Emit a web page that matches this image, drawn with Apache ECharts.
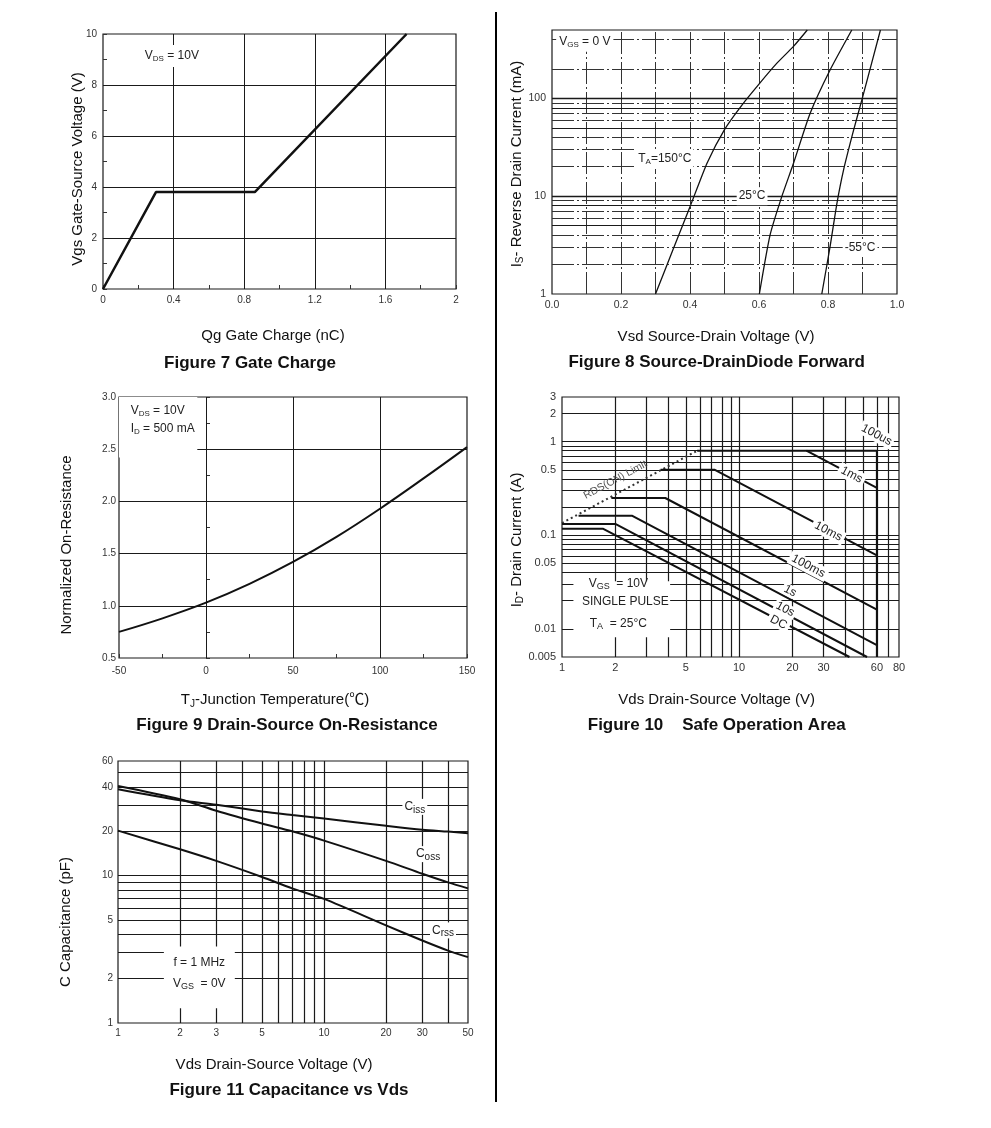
<!DOCTYPE html>
<html><head><meta charset="utf-8">
<script src="https://cdn.jsdelivr.net/npm/echarts@6/dist/echarts.min.js"></script>
<style>html,body{margin:0;padding:0;background:#fff}#c{width:991px;height:1128px}</style>
</head><body><div id="c"></div>
<script>
// ---------- DATA ----------
// Figure 7 Gate Charge
const fig7Charge = [0, 0.3, 0.86, 1.72];
const fig7Vgs = [0, 3.8, 3.8, 10];
// Figure 8 Source-Drain diode forward (Vsd V, Is mA)
const fig8Vsd150 = [0.30, 0.35, 0.40, 0.45, 0.50, 0.55, 0.60, 0.65, 0.70, 0.74];
const fig8Is150 = [1, 2.8, 7.8, 22, 48, 85, 140, 225, 340, 500];
const fig8Vsd25 = [0.601, 0.632, 0.666, 0.70, 0.748, 0.806, 0.869];
const fig8Is25 = [1, 4.0, 9.9, 21.7, 70, 195, 500];
const fig8VsdM55 = [0.782, 0.806, 0.826, 0.845, 0.874, 0.898, 0.952];
const fig8IsM55 = [1, 3.05, 8.5, 18.5, 47, 96, 500];
const fig8YTicks = [1, 10, 100];
// Figure 9 Normalized on-resistance
const fig9Temp = [-50, -25, 0, 25, 50, 75, 100, 125, 150];
const fig9Rds = [0.75, 0.88, 1.03, 1.21, 1.42, 1.66, 1.93, 2.22, 2.52];
// Figure 10 Safe operating area (Vds V, Id A)
const fig10RdsLimV = [1, 5.8];        const fig10RdsLimI = [0.135, 0.8];
const fig10us100V = [5.8, 60, 60];    const fig10us100I = [0.8, 0.8, 0.005];
const fig10ms1V = [24, 60];           const fig10ms1I = [0.8, 0.32];
const fig10ms10V = [3.6, 7.3, 60];    const fig10ms10I = [0.5, 0.5, 0.061];
const fig10ms100V = [1.9, 3.83, 60];  const fig10ms100I = [0.25, 0.25, 0.016];
const fig10s1V = [1.24, 2.48, 60];    const fig10s1I = [0.162, 0.162, 0.0067];
const fig10s10V = [1, 2, 52.8];       const fig10s10I = [0.132, 0.132, 0.005];
const fig10dcV = [1, 1.71, 42];       const fig10dcI = [0.117, 0.117, 0.005];
const fig10XTicks = [1, 2, 5, 10, 20, 30, 60, 80];
const fig10YTicks = [0.005, 0.01, 0.05, 0.1, 0.5, 1, 2, 3];
// Figure 11 Capacitance vs Vds
const fig11Vds = [1, 2, 3, 5, 7, 10, 20, 30, 40, 50];
const fig11Ciss = [38.6, 32.5, 30.3, 27.3, 25.8, 24.4, 21.8, 20.5, 19.9, 19.4];
const fig11Coss = [40.6, 33, 27.6, 22.6, 20, 17.3, 12.6, 10.3, 9.0, 8.2];
const fig11Crss = [20.2, 15.1, 12.6, 9.8, 8.2, 6.95, 4.6, 3.63, 3.1, 2.8];
const fig11XTicks = [1, 2, 3, 5, 10, 20, 30, 50];
const fig11YTicks = [1, 2, 5, 10, 20, 40, 60];
// gridline positions
const fig7GridX = [0.4, 0.8, 1.2, 1.6];
const fig7GridY = [2, 4, 6, 8];
const fig8GridX = [0.1, 0.2, 0.3, 0.4, 0.5, 0.6, 0.7, 0.8, 0.9];
const fig8GridYMajor = [10, 100];
const fig8GridYSolid = [5, 8, 50, 80];
const fig8GridYMinor = [2, 3, 4, 6, 7, 9, 20, 30, 40, 60, 70, 90, 200, 400];
const fig9GridX = [0, 50, 100];
const fig9GridY = [1.0, 1.5, 2.0, 2.5];
const fig10GridX = [2, 3, 4, 5, 6, 7, 8, 9, 10, 20, 30, 40, 50, 60, 70];
const fig10GridY = [0.006, 0.007, 0.008, 0.009, 0.01, 0.02, 0.03, 0.04, 0.05, 0.06, 0.07, 0.08, 0.09,
                    0.1, 0.2, 0.3, 0.4, 0.5, 0.6, 0.7, 0.8, 0.9, 1, 2];
const fig11GridX = [2, 3, 4, 5, 6, 7, 8, 9, 10, 20, 30, 40];
const fig11GridY = [2, 3, 4, 5, 6, 7, 8, 9, 10, 20, 30, 40, 50];

// ---------- CHART ----------
const FONT = '"Liberation Sans", Arial, "Noto Sans CJK SC", sans-serif';
const chart = echarts.init(document.getElementById('c'), null, {renderer: 'canvas'});
const pairs = (xs, ys) => xs.map((x, i) => [x, ys[i]]);
const numFmt = v => String(parseFloat(Number(v).toPrecision(6)));
const gridBox = {show: true, borderColor: '#1a1a1a', borderWidth: 1.2, backgroundColor: 'transparent'};
const grids = [
  {left: 103, top: 34, width: 353, height: 255},
  {left: 552, top: 30, width: 345, height: 264},
  {left: 119, top: 397, width: 348, height: 261},
  {left: 562, top: 397, width: 337, height: 260},
  {left: 118, top: 761, width: 350, height: 262}
].map(g => Object.assign({}, gridBox, g));

const lbl = (size, margin, extra) => Object.assign({fontFamily: FONT, fontSize: size, color: '#333', margin: margin}, extra || {});
const base = {axisLine: {show: false}, splitLine: {show: false}, axisTick: {show: false}};
const minorT = {
  axisTick: {show: true, inside: true, length: 4, lineStyle: {color: '#333'}},
  minorTick: {show: true, splitNumber: 2, length: 4, lineStyle: {color: '#333'}}
};
const xAxes = [
  Object.assign({}, base, minorT, {gridIndex: 0, type: 'value', min: 0, max: 2, interval: 0.4, axisLabel: lbl(10, 6, {formatter: numFmt})}),
  Object.assign({}, base, {gridIndex: 1, type: 'value', min: 0, max: 1, interval: 0.2, axisLabel: lbl(10.5, 6, {formatter: v => v.toFixed(1)})}),
  Object.assign({}, base, minorT, {gridIndex: 2, type: 'value', min: -50, max: 150, interval: 50, axisLabel: lbl(10, 8, {formatter: numFmt})}),
  Object.assign({}, base, {gridIndex: 3, type: 'log', logBase: 10, min: 1, max: 80, axisLabel: lbl(11, 5, {customValues: fig10XTicks, formatter: numFmt})}),
  Object.assign({}, base, {gridIndex: 4, type: 'log', logBase: 10, min: 1, max: 50, axisLabel: lbl(10, 5, {customValues: fig11XTicks, formatter: numFmt})})
];
const yAxes = [
  Object.assign({}, base, minorT, {gridIndex: 0, type: 'value', min: 0, max: 10, interval: 2, axisLabel: lbl(10, 6, {formatter: numFmt})}),
  Object.assign({}, base, {gridIndex: 1, type: 'log', logBase: 10, min: 1, max: 500, axisLabel: lbl(10.5, 6, {customValues: fig8YTicks, formatter: numFmt})}),
  Object.assign({}, base, minorT, {gridIndex: 2, type: 'value', min: 0.5, max: 3.0, interval: 0.5, axisLabel: lbl(10, 3, {formatter: v => v.toFixed(1)})}),
  Object.assign({}, base, {gridIndex: 3, type: 'log', logBase: 10, min: 0.005, max: 3, axisLabel: lbl(11, 6, {customValues: fig10YTicks, formatter: numFmt})}),
  Object.assign({}, base, {gridIndex: 4, type: 'log', logBase: 10, min: 1, max: 60, axisLabel: lbl(10, 5, {customValues: fig11YTicks, formatter: numFmt})})
];

const solid = (w) => ({color: '#1a1a1a', width: w || 1.1, type: 'solid'});
const dashDot = {color: '#333', width: 1, type: [22, 3, 2, 3]};
function gridLines(gi, vx, vy) {
  return {
    type: 'line', xAxisIndex: gi, yAxisIndex: gi, data: [], silent: true, animation: false, z: 1,
    markLine: {
      silent: true, animation: false, symbol: ['none', 'none'], label: {show: false}, z: 1,
      emphasis: {disabled: true},
      data: vx.map(o => ({xAxis: o[0], lineStyle: o[1]})).concat(vy.map(o => ({yAxis: o[0], lineStyle: o[1]})))
    }
  };
}
function curve(gi, xs, ys, extra) {
  return Object.assign({
    type: 'line', xAxisIndex: gi, yAxisIndex: gi, data: pairs(xs, ys), symbol: 'none',
    silent: true, animation: false, z: 10, lineStyle: {color: '#111', width: 2}
  }, extra || {});
}
const w = (arr, st) => arr.map(v => [v, st]);
const diode = {smooth: 0.2, lineStyle: {color: '#111', width: 1.3}};

const series = [
  gridLines(0, w(fig7GridX, solid(1)), w(fig7GridY, solid(1))),
  gridLines(1, w(fig8GridX, dashDot),
    w(fig8GridYMajor, solid(1.3)).concat(w(fig8GridYSolid, solid(1)), w(fig8GridYMinor, dashDot))),
  gridLines(2, w(fig9GridX, solid(1)), w(fig9GridY, solid(1))),
  gridLines(3, w(fig10GridX, solid(1.2)), w(fig10GridY, solid(1.2))),
  gridLines(4, w(fig11GridX, solid(1.2)), w(fig11GridY, solid(1.2))),
  curve(0, fig7Charge, fig7Vgs, {lineStyle: {color: '#111', width: 2.5}}),
  curve(1, fig8Vsd150, fig8Is150, diode),
  curve(1, fig8Vsd25, fig8Is25, diode),
  curve(1, fig8VsdM55, fig8IsM55, diode),
  curve(2, fig9Temp, fig9Rds, {smooth: 0.4, lineStyle: {color: '#111', width: 2}}),
  curve(3, fig10RdsLimV, fig10RdsLimI, {lineStyle: {color: '#333', width: 2, type: [2, 3]}}),
  curve(3, fig10us100V, fig10us100I, {lineStyle: {color: '#111', width: 2}}),
  curve(3, fig10ms1V, fig10ms1I),
  curve(3, fig10ms10V, fig10ms10I),
  curve(3, fig10ms100V, fig10ms100I),
  curve(3, fig10s1V, fig10s1I),
  curve(3, fig10s10V, fig10s10I),
  curve(3, fig10dcV, fig10dcI),
  curve(4, fig11Vds, fig11Ciss, {smooth: 0.3}),
  curve(4, fig11Vds, fig11Coss, {smooth: 0.3}),
  curve(4, fig11Vds, fig11Crss, {smooth: 0.3})
];

chart.setOption({
  backgroundColor: '#fff',
  animation: false,
  grid: grids,
  xAxis: xAxes,
  yAxis: yAxes,
  series: series
});

// ---------- TEXT / ANNOTATIONS ----------
const P = (gi, x, y) => chart.convertToPixel({gridIndex: gi}, [x, y]);
const rt = (size, extra) => Object.assign({fontFamily: FONT, fontSize: size, fill: '#222'}, extra || {});
function T(x, y, text, o) {
  o = o || {};
  const st = Object.assign({
    text: text, fill: o.fill || '#111', font: o.font || ('15px ' + FONT),
    align: o.align || 'center', verticalAlign: 'middle',
    textAlign: o.align || 'center', textVerticalAlign: 'middle'
  }, o.style || {});
  return {type: 'text', x: x, y: y, rotation: o.rot || 0, z: 100, style: st};
}
function richLabel(pt, text, size, subSize, o) {
  o = o || {};
  return T(pt[0], pt[1], text, {
    rot: o.rot, align: o.align,
    style: Object.assign({
      rich: {
        m: rt(size, {fill: o.fill || '#222'}),
        s: rt(subSize, {fill: o.fill || '#222', padding: [o.subShift || 6, 0, 0, 0]})
      }
    }, o.bg ? {backgroundColor: '#fff', padding: o.pad || [2, 3]} : {})
  });
}
function whiteRect(gi, x1, y1, x2, y2) {
  const a = P(gi, x1, y1), b = P(gi, x2, y2);
  return {type: 'rect', z: 99, shape: {x: Math.min(a[0], b[0]), y: Math.min(a[1], b[1]), width: Math.abs(b[0] - a[0]), height: Math.abs(b[1] - a[1])}, style: {fill: '#fff'}};
}

const slopeA = P(3, 10, 0.1), slopeB = P(3, 100, 0.01);
const slopeRot = -Math.atan2(slopeB[1] - slopeA[1], slopeB[0] - slopeA[0]);
const limA = P(3, fig10RdsLimV[0], fig10RdsLimI[0]), limB = P(3, fig10RdsLimV[1], fig10RdsLimI[1]);
const limRot = -Math.atan2(limB[1] - limA[1], limB[0] - limA[0]);
const RIGHT = Math.PI / 2;
const bold = 'bold 17px ' + FONT;
const tFont = '15px ' + FONT;

const graphics = [
  {type: 'line', z: 100, shape: {x1: 496, y1: 12, x2: 496, y2: 1102}, style: {stroke: '#000', lineWidth: 2}},
  // figure titles
  T(250, 363, 'Figure 7 Gate Charge', {font: bold}),
  T(716.7, 362, 'Figure 8 Source-DrainDiode Forward', {font: bold}),
  T(287, 725, 'Figure 9 Drain-Source On-Resistance', {font: bold}),
  T(716.7, 725, 'Figure 10    Safe Operation Area', {font: bold}),
  T(289, 1090, 'Figure 11 Capacitance vs Vds', {font: bold}),
  // x axis titles
  T(273, 336, 'Qg Gate Charge (nC)', {font: tFont}),
  T(716, 337, 'Vsd Source-Drain Voltage (V)', {font: tFont}),
  richLabel([275, 700], '{m|T}{s|J}{m|-Junction Temperature(℃)}', 15, 10, {fill: '#111', subShift: 8}),
  T(716.7, 700, 'Vds Drain-Source Voltage (V)', {font: tFont}),
  T(274, 1065, 'Vds Drain-Source Voltage (V)', {font: tFont}),
  // y axis titles
  T(78, 169, 'Vgs Gate-Source Voltage (V)', {font: tFont, rot: RIGHT}),
  richLabel([516.7, 164], '{m|I}{s|S}{m|- Reverse Drain Current (mA)}', 15, 10, {rot: RIGHT, fill: '#111', subShift: 8}),
  T(67, 545, 'Normalized On-Resistance', {font: tFont, rot: RIGHT}),
  richLabel([516.5, 540], '{m|I}{s|D}{m|- Drain Current (A)}', 15, 10, {rot: RIGHT, fill: '#111', subShift: 8}),
  T(66, 922, 'C Capacitance (pF)', {font: tFont, rot: RIGHT}),
  // fig 7 note
  richLabel(P(0, 0.39, 9.14), '{m|V}{s|DS}{m| = 10V}', 12, 8, {bg: true, pad: [4, 3]}),
  // fig 8 notes
  richLabel(P(1, 0.095, 380), '{m|V}{s|GS}{m| = 0 V}', 12, 8, {bg: true, pad: [3, 3]}),
  richLabel(P(1, 0.327, 24), '{m|T}{s|A}{m|=150°C}', 12, 8, {bg: true, pad: [3, 2]}),
  richLabel(P(1, 0.58, 10), '{m|25°C}', 12, 8, {bg: true, pad: [3, 2]}),
  richLabel(P(1, 0.893, 2.95), '{m|-55°C}', 12, 8, {bg: true, pad: [3, 2]}),
  // fig 9 note
  whiteRect(2, -50, 3.0, -5, 2.42),
  richLabel(P(2, -43.3, 2.87), '{m|V}{s|DS}{m| = 10V}', 12, 8, {align: 'left'}),
  richLabel(P(2, -43.3, 2.70), '{m|I}{s|D}{m| = 500 mA}', 12, 8, {align: 'left'}),
  // fig 10 notes
  whiteRect(3, 1.16, 0.0322, 4.08, 0.00815),
  richLabel(P(3, 2.08, 0.0306), '{m|V}{s|GS}{m|  = 10V}', 12, 9),
  richLabel(P(3, 2.28, 0.0193), '{m|SINGLE PULSE}', 12, 9),
  richLabel(P(3, 2.08, 0.0114), '{m|T}{s|A}{m|  = 25°C}', 12, 9),
  richLabel(P(3, 59.8, 1.18), '{m|100us}', 12, 8, {bg: true, rot: slopeRot, pad: [1, 2]}),
  richLabel(P(3, 43.2, 0.442), '{m|1ms}', 12, 8, {bg: true, rot: slopeRot, pad: [1, 3]}),
  richLabel(P(3, 31.9, 0.110), '{m|10ms}', 12, 8, {bg: true, rot: slopeRot, pad: [1, 3]}),
  richLabel(P(3, 24.6, 0.0468), '{m|100ms}', 12, 8, {bg: true, rot: slopeRot, pad: [1, 3]}),
  richLabel(P(3, 19.4, 0.0254), '{m|1s}', 12, 8, {bg: true, rot: slopeRot, pad: [0, 2]}),
  richLabel(P(3, 18.2, 0.0162), '{m|10s}', 12, 8, {bg: true, rot: slopeRot, pad: [0, 2]}),
  richLabel(P(3, 16.7, 0.0117), '{m|DC}', 12, 8, {bg: true, rot: slopeRot, pad: [0, 3]}),
  richLabel(P(3, 2.0, 0.39), '{m|RDS(ON) Limit}', 10.5, 8, {rot: limRot, fill: '#555'}),
  // fig 11 notes
  richLabel(P(4, 27.6, 29.3), '{m|C}{s|iss}', 12, 10, {bg: true, pad: [0, 2]}),
  richLabel(P(4, 32, 14.0), '{m|C}{s|oss}', 12, 10, {bg: true, pad: [0, 2]}),
  richLabel(P(4, 37.8, 4.25), '{m|C}{s|rss}', 12, 10, {bg: true, pad: [0, 2]}),
  whiteRect(4, 1.67, 3.3, 3.69, 1.26),
  richLabel(P(4, 2.48, 2.56), '{m|f = 1 MHz}', 12, 9),
  richLabel(P(4, 2.48, 1.84), '{m|V}{s|GS}{m|  = 0V}', 12, 9)
];

chart.setOption({graphic: graphics});
</script></body></html>
